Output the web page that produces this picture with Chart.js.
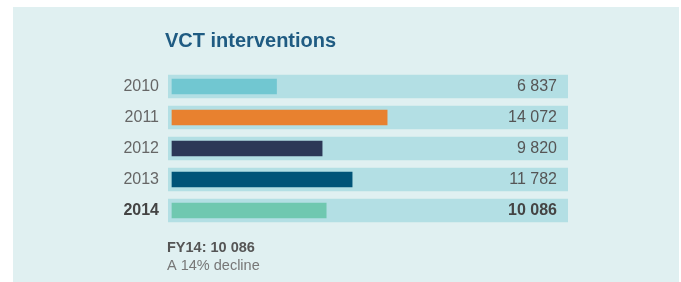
<!DOCTYPE html>
<html>
<head>
<meta charset="utf-8">
<script src="https://cdn.jsdelivr.net/npm/chart.js@4.4.0/dist/chart.umd.min.js"></script>
<style>
  body { margin: 0; background: #fff; }
  #wrap { position: relative; width: 681px; height: 282px; }
  #panel { position: absolute; left: 13px; top: 7px; width: 666px; height: 275px; background: #e0f0f1; }
  canvas { position: absolute; left: 0; top: 0; }
</style>
</head>
<body>
<div id="wrap">
  <div id="panel"></div>
  <canvas id="chVct" width="681" height="282"></canvas>
</div>
<script>
// data
var years = ['2010', '2011', '2012', '2013', '2014'];
var interventions = [6837, 14072, 9820, 11782, 10086];
var barColors = ['#71c7d1', '#e8812f', '#2c3857', '#005478', '#6fc8b0'];
var titleText = 'VCT interventions';
var noteLines = ['FY14: 10 086', 'A 14% decline'];

// axis range (track runs a little left of zero)
var axisMin = -260;
var axisMax = 25900;

var fontFam = '"Liberation Sans", Arial, Helvetica, sans-serif';

function fmt(v) {
  return v.toString().replace(/\B(?=(\d{3})+(?!\d))/g, ' ');
}

// value labels, title and note
var textPlugin = {
  id: 'texts',
  afterDatasetsDraw: function (chart) {
    var ctx = chart.ctx;
    var area = chart.chartArea;
    var yScale = chart.scales.y;
    ctx.save();
    ctx.textAlign = 'right';
    ctx.textBaseline = 'middle';
    interventions.forEach(function (v, i) {
      var last = i === interventions.length - 1;
      ctx.font = (last ? 'bold ' : '') + '16px ' + fontFam;
      ctx.fillStyle = last ? '#444' : '#555';
      ctx.fillText(fmt(v), area.right - 11, yScale.getPixelForValue(i) + 0.5);
    });

    ctx.textAlign = 'left';
    ctx.textBaseline = 'alphabetic';
    ctx.font = 'bold 20px ' + fontFam;
    ctx.fillStyle = '#1f5b82';
    ctx.fillText(titleText, area.left - 3, area.top - 24.5);

    ctx.font = 'bold 14.5px ' + fontFam;
    ctx.fillStyle = '#555';
    ctx.fillText(noteLines[0], area.left - 1, area.bottom + 26);
    ctx.font = '14.5px ' + fontFam;
    ctx.fillStyle = '#777';
    ctx.fillText(noteLines[1], area.left - 1, area.bottom + 44);
    ctx.restore();
  }
};

new Chart(document.getElementById('chVct'), {
  type: 'bar',
  data: {
    labels: years,
    datasets: [
      {
        data: interventions,
        backgroundColor: barColors,
        barThickness: 15,
        borderWidth: 0,
        grouped: false,
        order: 1
      },
      {
        data: years.map(function () { return [axisMin, axisMax]; }),
        backgroundColor: '#b3dfe4',
        barThickness: 23,
        borderWidth: 0,
        grouped: false,
        order: 2
      }
    ]
  },
  options: {
    indexAxis: 'y',
    responsive: false,
    animation: false,
    devicePixelRatio: 1,
    layout: {
      padding: { top: 71, bottom: 56, right: 113, left: 0 }
    },
    scales: {
      x: {
        display: false,
        min: axisMin,
        max: axisMax
      },
      y: {
        grid: { display: false, drawTicks: false },
        border: { display: false },
        ticks: {
          padding: 9,
          color: function (c) { return c.index === 4 ? '#444' : '#666'; },
          font: function (c) {
            return { family: fontFam, size: 16, weight: c.index === 4 ? 'bold' : 'normal' };
          }
        },
        afterFit: function (scale) { scale.width = 168; }
      }
    },
    plugins: {
      legend: { display: false },
      tooltip: { enabled: false }
    }
  },
  plugins: [textPlugin]
});
</script>
</body>
</html>
